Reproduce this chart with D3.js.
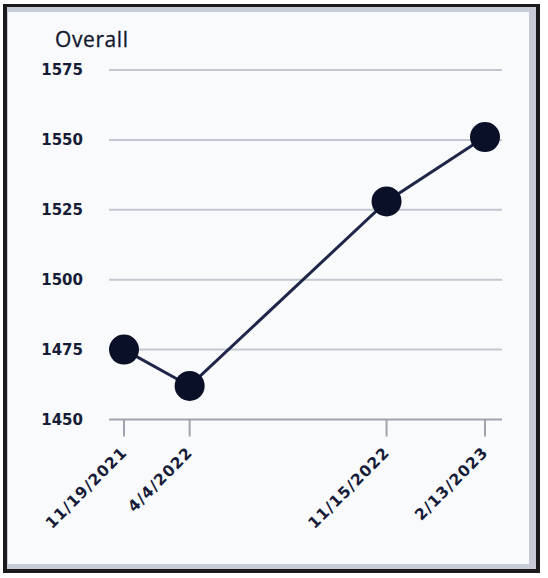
<!DOCTYPE html>
<html>
<head>
<meta charset="utf-8">
<script src="https://cdn.jsdelivr.net/npm/d3@7"></script>
<style>
  html, body { margin: 0; padding: 0; background: #ffffff; }
  svg { display: block; }
</style>
</head>
<body>
<div id="chart"></div>
<script>
// Data
const testDates = ["11/19/2021", "4/4/2022", "11/15/2022", "2/13/2023"];
const xSlots = [0, 1, 4, 5.5]; // spacing of the dates along the axis
const overallScores = [1475, 1462, 1528, 1551];
const yTicks = [1450, 1475, 1500, 1525, 1550, 1575];
const chartTitle = "Overall";

const width = 548, height = 578;
const navy = "#161c38";
const gridColor = "#c3c7cf";

const svg = d3.select("#chart").append("svg")
    .attr("width", width)
    .attr("height", height);

// card frame: black outer border, light slate inner band, near-white panel
svg.append("rect")
    .attr("x", 3).attr("y", 4)
    .attr("width", 537).attr("height", 569)
    .style("fill", "#1b1b1d");
svg.append("rect")
    .attr("x", 7).attr("y", 7)
    .attr("width", 529).attr("height", 562)
    .style("fill", "#c6cbd6");
svg.append("rect")
    .attr("x", 8).attr("y", 12)
    .attr("width", 521).attr("height", 552)
    .style("fill", "#f9fafc");

const x = d3.scaleLinear()
    .domain([0, 5.5])
    .range([124, 485]);

const y = d3.scaleLinear()
    .domain([1450, 1575])
    .range([419.5, 70]);

const gridLeft = 109, gridRight = 502;

// Horizontal grid lines
svg.append("g")
    .selectAll("line")
    .data(yTicks)
    .join("line")
    .attr("x1", gridLeft)
    .attr("x2", gridRight)
    .attr("y1", d => y(d))
    .attr("y2", d => y(d))
    .style("stroke", d => d === 1450 ? "#9ea3ad" : gridColor)
    .style("stroke-width", 2);

// Y tick labels
svg.append("g")
    .selectAll("text")
    .data(yTicks)
    .join("text")
    .attr("x", 83)
    .attr("y", d => y(d))
    .attr("dy", "0.36em")
    .style("text-anchor", "end")
    .style("font-family", "'DejaVu Sans', sans-serif")
    .style("font-weight", "bold")
    .style("font-size", "15px")
    .style("fill", navy)
    .text(d => d);

// X ticks and rotated date labels
const xg = svg.append("g");
xg.selectAll("line")
    .data(xSlots)
    .join("line")
    .attr("x1", d => x(d))
    .attr("x2", d => x(d))
    .attr("y1", y(1450))
    .attr("y2", y(1450) + 17)
    .style("stroke", "#9ea3ad")
    .style("stroke-width", 2);

xg.selectAll("text")
    .data(testDates)
    .join("text")
    .attr("transform", (d, i) => `translate(${x(xSlots[i]) + 4},${y(1450) + 34}) rotate(-45)`)
    .style("text-anchor", "end")
    .style("font-family", "'DejaVu Sans', sans-serif")
    .style("font-weight", "bold")
    .style("font-size", "15.5px")
    .style("letter-spacing", "1px")
    .style("fill", navy)
    .text(d => d);

// Title
svg.append("text")
    .attr("x", 55)
    .attr("y", 47)
    .style("font-family", "'Open Sans', sans-serif")
    .style("font-size", "21px")
    .style("letter-spacing", "0.6px")
    .style("stroke", "#12172e")
    .style("stroke-width", 0.3)
    .style("fill", "#12172e")
    .text(chartTitle);

// Line
const points = overallScores.map((v, i) => ({ slot: xSlots[i], value: v }));

svg.append("path")
    .datum(points)
    .attr("d", d3.line().x(d => x(d.slot)).y(d => y(d.value)))
    .style("fill", "none")
    .style("stroke", "#1f2647")
    .style("stroke-width", 3);

// Points
svg.append("g")
    .selectAll("circle")
    .data(points)
    .join("circle")
    .attr("cx", d => x(d.slot))
    .attr("cy", d => y(d.value))
    .attr("r", 15)
    .style("fill", "#0b1029");
</script>
</body>
</html>
